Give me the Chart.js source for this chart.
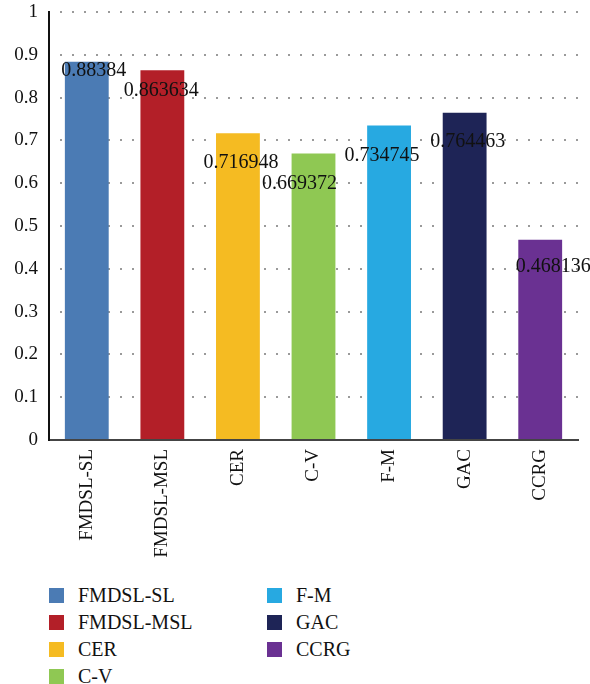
<!DOCTYPE html>
<html>
<head>
<meta charset="utf-8">
<script src="https://cdn.jsdelivr.net/npm/chart.js@4/dist/chart.umd.min.js"></script>
<style>
  html, body { margin: 0; padding: 0; background: #fff; }
  #wrap { position: relative; width: 590px; height: 578px; }
  #legend {
    display: grid;
    grid-template-rows: repeat(4, 27px);
    grid-auto-flow: column;
    grid-template-columns: 218px 200px;
    margin-left: 49px;
    margin-top: 4px;
    font-family: "Liberation Serif", serif;
    font-size: 20px;
    color: #111;
  }
  .item { display: flex; align-items: center; }
  .box { width: 15px; height: 15px; margin-right: 14px; }
</style>
</head>
<body>
<div id="wrap"><canvas id="chart"></canvas></div>
<div id="legend"></div>
<script>
// 数据
const categories = ['FMDSL-SL', 'FMDSL-MSL', 'CER', 'C-V', 'F-M', 'GAC', 'CCRG'];
const values = [0.88384, 0.863634, 0.716948, 0.669372, 0.734745, 0.764463, 0.468136];
const yTicks = [0, 0.1, 0.2, 0.3, 0.4, 0.5, 0.6, 0.7, 0.8, 0.9, 1];

const colors = ['#4b7bb4', '#b31f28', '#f5bb22', '#8fc853', '#27a9e1', '#1e2456', '#6a3192'];
// 数值标签相对柱顶的偏移
const labelDx = [7, -1, 3, -14, -7, 3, 13];
const labelDy = [9, 20, 30, 30, 30, 29, 27];

const serif = '"Liberation Serif", serif';
const tickFont = { family: serif, size: 19, style: 'normal', weight: 'normal', lineHeight: 1.2 };

// 数值标签插件
const valueLabels = {
  id: 'valueLabels',
  afterDatasetsDraw(chart) {
    const ctx = chart.ctx;
    const meta = chart.getDatasetMeta(0);
    ctx.save();
    ctx.font = '20px ' + serif;
    ctx.fillStyle = '#111';
    ctx.textAlign = 'center';
    ctx.textBaseline = 'middle';
    meta.data.forEach((bar, i) => {
      ctx.fillText(String(values[i]), bar.x + labelDx[i], bar.y + labelDy[i]);
    });
    ctx.restore();
  }
};

const ctx = document.getElementById('chart').getContext('2d');
new Chart(ctx, {
  type: 'bar',
  data: {
    labels: categories,
    datasets: [{
      data: values,
      backgroundColor: colors,
      borderWidth: 0,
      barPercentage: 0.58,
      categoryPercentage: 1
    }]
  },
  options: {
    responsive: true,
    maintainAspectRatio: false,
    animation: false,
    font: tickFont,
    layout: { padding: { top: 0, right: 12, left: 0, bottom: 0 } },
    plugins: {
      legend: { display: false },
      tooltip: { enabled: false }
    },
    scales: {
      x: {
        grid: { display: false, drawTicks: false },
        border: { color: '#444', width: 2 },
        ticks: {
          color: '#111',
          font: () => tickFont,
          minRotation: 90,
          maxRotation: 90,
          padding: 9
        },
        afterFit(scale) { scale.height = 138; }
      },
      y: {
        min: 0,
        max: 1,
        afterBuildTicks(scale) { scale.ticks = yTicks.map(v => ({ value: v })); },
        grid: {
          color: '#9a9a9a',
          lineWidth: 2,
          drawTicks: false
        },
        border: { color: '#111', width: 2, dash: [2, 10], dashOffset: -10 },
        ticks: {
          color: '#111',
          font: () => tickFont,
          padding: 11,
          callback: v => String(+Number(v).toFixed(1))
        },
        afterFit(scale) {
          scale.width = 49;
          scale.paddingTop = 12;
          scale.paddingBottom = 0;
        }
      }
    }
  },
  plugins: [valueLabels]
});

// 图例
const legend = document.getElementById('legend');
categories.forEach((name, i) => {
  const item = document.createElement('div');
  item.className = 'item';
  const box = document.createElement('span');
  box.className = 'box';
  box.style.background = colors[i];
  const label = document.createElement('span');
  label.textContent = name;
  item.appendChild(box);
  item.appendChild(label);
  legend.appendChild(item);
});
</script>
</body>
</html>
